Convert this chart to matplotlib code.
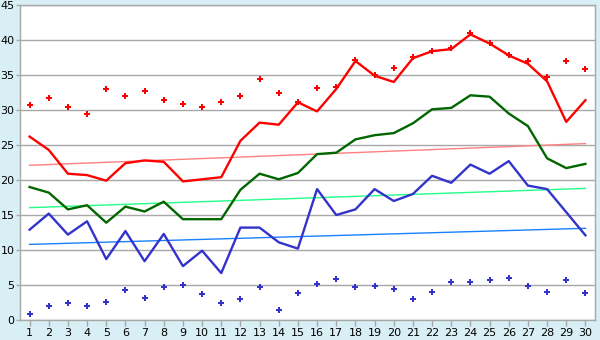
import numpy as np
import matplotlib
matplotlib.use("Agg")
import matplotlib.pyplot as plt

# days of the month
days = list(range(1, 31))

# values
red_line = [26.2, 24.3, 20.9, 20.7, 19.9, 22.4, 22.8, 22.6, 19.8, 20.1,
            20.4, 25.6, 28.2, 27.9, 31.1, 29.8, 33.0, 37.0, 34.9, 34.0,
            37.4, 38.4, 38.7, 40.8, 39.5, 37.8, 36.6, 34.1, 28.3, 31.4]
red_dots = [30.7, 31.7, 30.4, 29.4, 33.0, 32.0, 32.7, 31.5, 30.8, 30.4,
            31.1, 32.0, 34.4, 32.4, 31.2, 33.1, 33.3, 37.1, 35.0, 36.0,
            37.6, 38.5, 38.8, 41.0, 39.6, 37.9, 37.0, 34.7, 37.0, 35.8]
green_line = [19.0, 18.2, 15.8, 16.4, 13.9, 16.2, 15.5, 16.9, 14.4, 14.4,
              14.4, 18.6, 20.9, 20.1, 21.0, 23.7, 23.9, 25.8, 26.4, 26.7,
              28.1, 30.1, 30.3, 32.1, 31.9, 29.5, 27.7, 23.1, 21.7, 22.3]
blue_line = [12.9, 15.2, 12.2, 14.1, 8.7, 12.7, 8.4, 12.3, 7.7, 9.9,
             6.7, 13.2, 13.2, 11.1, 10.2, 18.7, 15.0, 15.8, 18.7, 17.0,
             18.0, 20.6, 19.6, 22.2, 20.9, 22.7, 19.2, 18.7, 15.4, 12.1]
blue_dots = [0.8, 1.95, 2.4, 1.95, 2.6, 4.3, 3.2, 4.7, 4.95, 3.7,
             2.4, 3.0, 4.7, 1.5, 3.8, 5.2, 5.8, 4.7, 4.85, 4.5,
             2.95, 3.95, 5.4, 5.4, 5.7, 5.95, 4.8, 3.95, 5.7, 3.8]
# trend lines: value at day 1 and day 30
trend_days = [1, 30]
red_trend = [22.1, 25.2]
green_trend = [16.05, 18.8]
blue_trend = [10.8, 13.1]

bg = '#d9eff6'
fig = plt.figure(figsize=(6, 3.4), dpi=100, facecolor=bg)
ax = fig.add_axes([20/600, 20/340, 575/600, 315/340])
ax.set_facecolor('white')

ax.set_xlim(0.5, 30.5)
ax.set_ylim(0, 45)
ax.set_yticks(range(0, 46, 5))
ax.set_xticks(days)
ax.yaxis.grid(True, color='#a8a8a8', linewidth=1)
ax.set_axisbelow(True)

for s in ax.spines.values():
    s.set_color('#a8a8a8')
    s.set_linewidth(1)

ax.tick_params(axis='both', colors='#a8a8a8', labelcolor='black',
               labelsize=8, width=1)
ax.tick_params(axis='y', length=3, pad=1)
ax.tick_params(axis='x', length=4, pad=2)

# trend lines
ax.plot(trend_days, red_trend, color='#ff8080', linewidth=1)
ax.plot(trend_days, green_trend, color='#22ff88', linewidth=1)
ax.plot(trend_days, blue_trend, color='#1a80ff', linewidth=1)

# main lines
ax.plot(days, red_line, color='#ff0000', linewidth=1.7)
ax.plot(days, green_line, color='#006600', linewidth=1.7)
ax.plot(days, blue_line, color='#3333cc', linewidth=1.7)

# dots
ax.plot(days, red_dots, linestyle='none', marker='P', markersize=5,
        color='#ff0000', markeredgewidth=0)
ax.plot(days, blue_dots, linestyle='none', marker='P', markersize=5,
        color='#3333cc', markeredgewidth=0)

fig.savefig('out.png', dpi=100, facecolor=bg)
